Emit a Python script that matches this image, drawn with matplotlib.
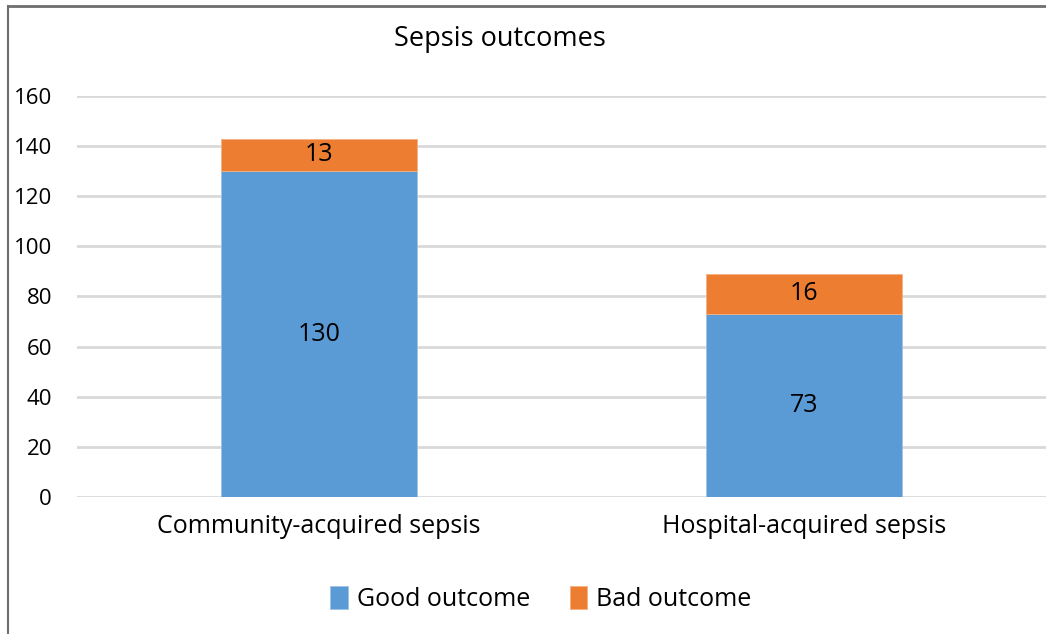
import matplotlib.pyplot as plt
from matplotlib.lines import Line2D
import numpy as np

plt.rcParams['font.family'] = ['Open Sans', 'DejaVu Sans']

# %% Datos
categories = ['Community-acquired sepsis', 'Hospital-acquired sepsis']
good = [130, 73]
bad = [13, 16]
yticks = [0, 20, 40, 60, 80, 100, 120, 140, 160]

blue = '#5B9BD5'
orange = '#ED7D31'

# %% Figura
fig = plt.figure(figsize=(10.46, 6.34), dpi=100)
ax = fig.add_axes([0.0736, 0.2161, 0.9264, 0.6325])

x = np.arange(len(categories))
b1 = ax.bar(x, good, width=0.405, color=blue, edgecolor='#9DC3E6', linewidth=0.6,
            label='Good outcome', zorder=3)
b2 = ax.bar(x, bad, width=0.405, bottom=good, color=orange, edgecolor='#F4B183',
            linewidth=0.6, label='Bad outcome', zorder=3)
ax.bar_label(b1, labels=[str(v) for v in good], label_type='center', fontsize=18)
ax.bar_label(b2, labels=[str(v) for v in bad], label_type='center', fontsize=18)

ax.set_xlim(-0.5, 1.5)
ax.set_ylim(0, 160)
ax.set_yticks(yticks)
ax.set_xticks(x)
ax.set_xticklabels(categories, fontsize=18)
ax.tick_params(axis='y', labelsize=16, length=0, pad=18)
ax.tick_params(axis='x', length=0, pad=12)
ax.grid(axis='y', color='#D9D9D9', linewidth=2, zorder=0)
ax.set_axisbelow(True)
for s in ax.spines.values():
    s.set_visible(False)

fig.text(0.478, 0.938, 'Sepsis outcomes', ha='center', va='center', fontsize=19.5)

fig.legend(handles=[b1, b2], loc='center', bbox_to_anchor=(0.517, 0.055), ncol=2,
           frameon=False, fontsize=18, handlelength=0.7, handleheight=1.0,
           handletextpad=0.35, columnspacing=1.6)

# borde
fig.add_artist(Line2D([0.0072, 0.0072], [0, 0.9905], color='#6E6E6E', linewidth=1.5,
                      transform=fig.transFigure))
fig.add_artist(Line2D([0.0072, 1.0], [0.9905, 0.9905], color='#6E6E6E', linewidth=2,
                      transform=fig.transFigure))

fig.savefig('out.png', dpi=100, facecolor='white')
